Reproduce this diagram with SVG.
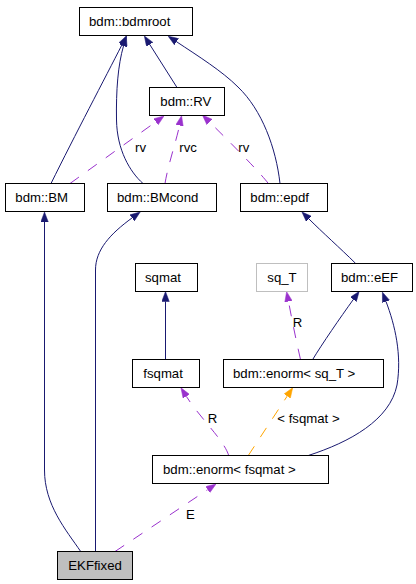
<svg xmlns="http://www.w3.org/2000/svg" width="416" height="584" viewBox="0 0 416 584">
<style>
  .node rect { fill: #ffffff; stroke: #000000; stroke-width: 1; }
  .node text, .lbl { font-family: "Liberation Sans", Arial, sans-serif; font-size: 13.2px; fill: #000000; }
  .ghost rect { stroke: #bfbfbf; }
  .focus rect { fill: #bfbfbf; }
  .e { fill: none; stroke-width: 1; }
  .inh { stroke: #191970; marker-end: url(#aNavy); }
  .use { stroke: #9a32cd; stroke-dasharray: 11,11; marker-end: url(#aPurple); }
  .tpl { stroke: #ffa500; stroke-dasharray: 11,11; marker-end: url(#aOrange); }
</style>
<defs>
  <marker id="aNavy" markerUnits="userSpaceOnUse" markerWidth="10" markerHeight="8" refX="0" refY="3.75" orient="auto" viewBox="0 0 10 7.5">
    <path d="M0,0 L10,3.75 L0,7.5 z" fill="#191970" stroke="#191970" stroke-width="0.5"/>
  </marker>
  <marker id="aPurple" markerUnits="userSpaceOnUse" markerWidth="10" markerHeight="8" refX="0" refY="3.75" orient="auto" viewBox="0 0 10 7.5">
    <path d="M0,0 L10,3.75 L0,7.5 z" fill="#9a32cd" stroke="#9a32cd" stroke-width="0.5"/>
  </marker>
  <marker id="aOrange" markerUnits="userSpaceOnUse" markerWidth="10" markerHeight="8" refX="0" refY="3.75" orient="auto" viewBox="0 0 10 7.5">
    <path d="M0,0 L10,3.75 L0,7.5 z" fill="#ffa500" stroke="#ffa500" stroke-width="0.5"/>
  </marker>
</defs>
<rect x="0" y="0" width="416" height="584" fill="#ffffff"/>

<g id="connectors">
  <path class="e inh" d="M51,183.5 C75,135 105,78 122,44.7"/>
  <path class="e inh" d="M143,183.5 C130,172 117,150 116.5,120 C116,90 118,65 123.5,46"/>
  <path class="e inh" d="M177,87.5 L149.7,44.4"/>
  <path class="e inh" d="M280,183.5 C276,148 262,110 238,87 C222,71 198,56 176.5,41.7"/>
  <path class="e use" d="M70,183.5 L155.9,121.8"/>
  <path class="e use" d="M165,183.5 C168,165 176,142 179.5,125.5"/>
  <path class="e use" d="M268.3,183.5 C262,175 240,152 209.5,122"/>
  <path class="e inh" d="M80.7,551.5 C66,530 44.5,505 44.5,470 L44.5,222"/>
  <path class="e inh" d="M95.5,551.5 L95.5,270 C95.5,250 110,234 132.1,217.9"/>
  <path class="e inh" d="M355.7,263.5 C340,248 322,232 309,219"/>
  <path class="e inh" d="M165.5,359.5 L165.5,301.5"/>
  <path class="e use" d="M300.5,359.5 C296,340 292,320 288.5,301.5"/>
  <path class="e inh" d="M312.7,359.5 C322,344 340,318 353.3,299.5"/>
  <path class="e inh" d="M308.3,455.5 C350,442 390,420 397,385 C402,355 395,325 386,301.5"/>
  <path class="e use" d="M228.7,455.5 C224,440 200,418 186.3,396.3"/>
  <path class="e tpl" d="M248.3,455.5 L287.2,396.1"/>
  <path class="e use" d="M115,551.5 L207.7,489.6"/>
  <text class="lbl" x="135" y="151.5">rv</text>
  <text class="lbl" x="179.3" y="151.5">rvc</text>
  <text class="lbl" x="238.3" y="151.5">rv</text>
  <text class="lbl" x="292.7" y="326.7">R</text>
  <text class="lbl" x="207.7" y="422.7">R</text>
  <text class="lbl" x="277.3" y="422.7">&lt; fsqmat &gt;</text>
  <text class="lbl" x="186" y="519">E</text>
</g>

<g id="bdmroot" class="node"><rect x="79.5" y="7.5" width="113" height="28"/><text x="89" y="25.8">bdm::bdmroot</text></g>
<g id="RV" class="node"><rect x="149.5" y="87.5" width="75" height="28"/><text x="160.3" y="105.6">bdm::RV</text></g>
<g id="BM" class="node"><rect x="5.5" y="183.5" width="79" height="28"/><text x="15.3" y="201.7">bdm::BM</text></g>
<g id="BMcond" class="node"><rect x="107.5" y="183.5" width="109" height="28"/><text x="117" y="201.7">bdm::BMcond</text></g>
<g id="epdf" class="node"><rect x="240.5" y="183.5" width="87" height="28"/><text x="250.3" y="201.7">bdm::epdf</text></g>
<g id="sqmat" class="node"><rect x="135.5" y="263.5" width="62" height="28"/><text x="145" y="281.7">sqmat</text></g>
<g id="sq_T" class="node ghost"><rect x="256.5" y="263.5" width="51" height="28"/><text x="267.3" y="281.7">sq_T</text></g>
<g id="eEF" class="node"><rect x="331.5" y="263.5" width="81" height="28"/><text x="341" y="281.7">bdm::eEF</text></g>
<g id="fsqmat" class="node"><rect x="132.5" y="359.5" width="67" height="28"/><text x="143.3" y="377.7">fsqmat</text></g>
<g id="enorm_sqT" class="node"><rect x="223.5" y="359.5" width="160" height="28"/><text x="233" y="377.7">bdm::enorm&lt; sq_T &gt;</text></g>
<g id="enorm_fsqmat" class="node"><rect x="152.5" y="455.5" width="176" height="28"/><text x="163" y="473.7">bdm::enorm&lt; fsqmat &gt;</text></g>
<g id="EKFfixed" class="node focus"><rect x="57.5" y="551.5" width="75" height="28"/><text x="68.3" y="569.7">EKFfixed</text></g>
</svg>
